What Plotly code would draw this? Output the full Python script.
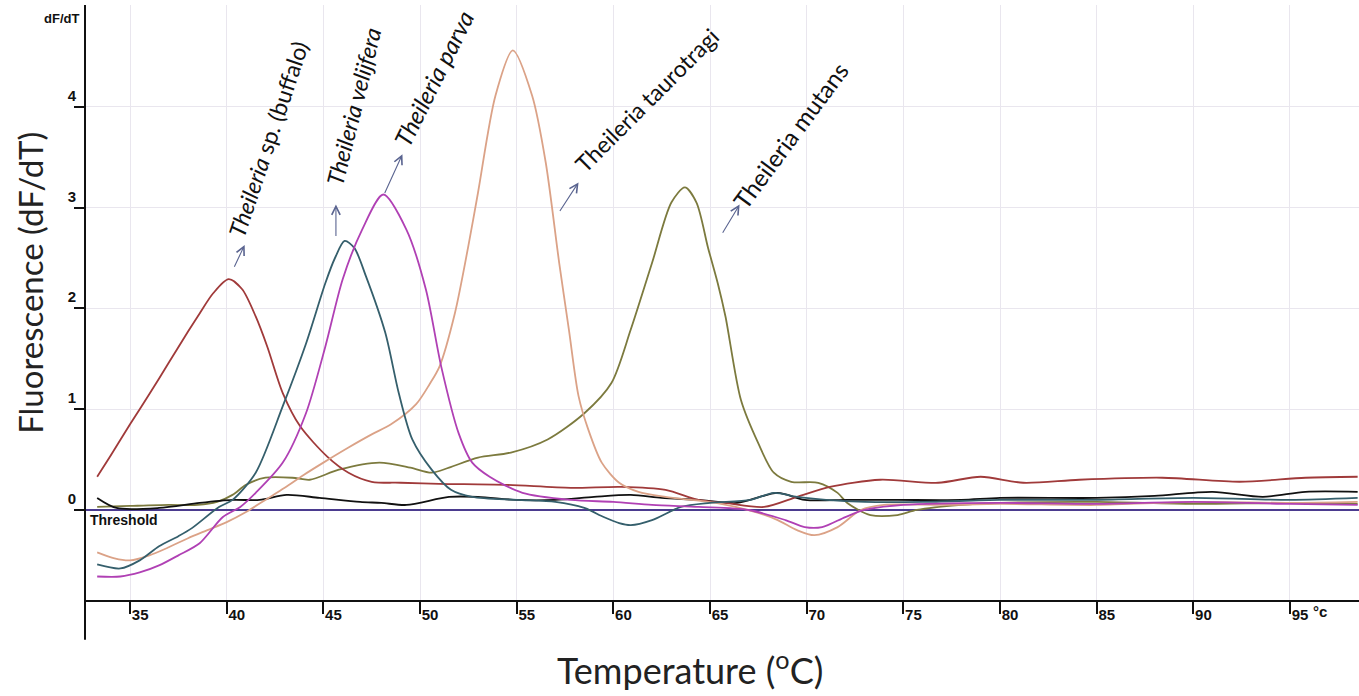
import plotly.graph_objects as go

# ---------------- data ----------------
buffalo_x = [33.3, 34, 35, 36, 37, 38, 38.6, 39.3, 40.1, 40.8, 41.5, 42.1, 42.9, 43.8, 45.2, 46.3, 47.5, 49, 51, 54.4, 57.8,
             60.4, 62.7, 64.4, 65.8, 67.8, 69.5, 71.2, 73.8, 76.8, 79, 81.2, 84.1, 88.4, 92.4, 95.8, 98.5]
buffalo_y = [0.33, 0.54, 0.85, 1.15, 1.46, 1.77, 1.95, 2.15, 2.29, 2.19, 1.92, 1.62, 1.16, 0.83, 0.53, 0.37, 0.28, 0.27, 0.26,
             0.25, 0.22, 0.23, 0.2, 0.1, 0.07, 0.03, 0.13, 0.23, 0.3, 0.27, 0.33, 0.27, 0.3, 0.32, 0.28, 0.32, 0.33]

velifera_x = [33.3, 34.5, 35.5, 36.5, 37.5, 38.2, 39.6, 40.3, 41.5, 42.9, 44.1, 45.1, 45.6, 46.1, 46.6, 47.2, 48.2, 48.9,
              49.6, 50.6, 51.6, 52.7, 55, 57, 58.5, 59.5, 60.3, 60.9, 62, 63.5, 65, 67.1, 68.3, 69.5, 71, 73, 76, 80, 85,
              90, 95, 98.5]
velifera_y = [-0.54, -0.58, -0.5, -0.36, -0.26, -0.18, 0.03, 0.1, 0.37, 1.03, 1.65, 2.25, 2.5, 2.67, 2.6, 2.32, 1.76, 1.16,
              0.7, 0.4, 0.2, 0.13, 0.1, 0.08, 0.02, -0.07, -0.13, -0.15, -0.1, 0.03, 0.07, 0.1, 0.17, 0.13, 0.1, 0.08, 0.08,
              0.1, 0.1, 0.12, 0.1, 0.12]

parva_x = [33.3, 34.5, 35.5, 36.5, 37.5, 38.6, 39.8, 40.7, 41.5, 42.9, 44.1, 45.1, 46.0, 47.0, 48.1, 49.3, 50.3, 51.1, 52.0,
           52.7, 53.6, 55.3, 57.8, 60, 62, 64.4, 67.0, 68.9, 69.9, 70.8, 72, 73, 75, 80, 85, 90, 95, 98.5]
parva_y = [-0.66, -0.66, -0.62, -0.55, -0.45, -0.33, -0.07, 0.03, 0.17, 0.47, 0.96, 1.62, 2.29, 2.78, 3.13, 2.78, 2.19, 1.42,
           0.76, 0.47, 0.33, 0.17, 0.1, 0.08, 0.05, 0.03, 0.0, -0.1, -0.17, -0.17, -0.07, 0.0, 0.05, 0.07, 0.06, 0.08, 0.06,
           0.05]

taurotragi_x = [33.3, 34.2, 35, 36, 37, 38, 39, 40, 41, 42, 43, 44, 45, 46.3, 47.5, 48.5, 49.8, 50.5, 51, 51.8, 52.5, 53,
                53.9, 54.8, 55.8, 56.5, 57.2, 57.7, 58.2, 58.7, 59.4, 60.3, 61.3, 62.7, 65.3, 67.5, 68.5, 69.5, 70.4, 71.6,
                72.8, 74, 77, 80, 85, 90, 95, 98.5]
taurotragi_y = [-0.42, -0.48, -0.5, -0.45, -0.37, -0.28, -0.2, -0.12, -0.02, 0.1, 0.22, 0.35, 0.47, 0.62, 0.75, 0.85, 1.05,
                1.25, 1.42, 1.95, 2.62, 3.15, 4.11, 4.56, 4.11, 3.45, 2.45, 1.79, 1.13, 0.8, 0.47, 0.27, 0.18, 0.13, 0.07,
                -0.03, -0.1, -0.2, -0.25, -0.17, 0.0, 0.05, 0.05, 0.06, 0.05, 0.08, 0.07, 0.08]

mutans_x = [33.3, 35, 37, 38.5, 39.5, 40.3, 41, 42, 43.4, 44.3, 45.8, 47.9, 49.5, 50.6, 51.5, 53, 54.7, 56.6, 58.5, 59.9,
            60.9, 62, 63, 63.7, 64.3, 64.9, 65.4, 65.8, 66.6, 67.5, 68.3, 69.2, 70.6, 71.6, 72.1, 73.3, 74.7, 75.7, 78, 80,
            85, 90, 95, 98.5]
mutans_y = [0.03, 0.04, 0.05, 0.05, 0.08, 0.15, 0.25, 0.32, 0.32, 0.3, 0.4, 0.47, 0.42, 0.37, 0.42, 0.52, 0.57, 0.7, 0.96,
            1.26, 1.79, 2.45, 3.05, 3.2, 3.05, 2.6, 2.25, 1.92, 1.09, 0.66, 0.37, 0.28, 0.27, 0.17, 0.07, -0.05, -0.05, 0.0,
            0.05, 0.07, 0.08, 0.06, 0.07, 0.06]

control_x = [33.3, 34.3, 36.5, 38.6, 40.3, 41.7, 43.1, 44.8, 46.9, 48.0, 49.3, 51.5, 53, 55, 57, 59, 60.9, 62.5, 64.4,
             66.4, 68.5, 69.9, 72.1, 74.7, 78, 80, 85, 88, 91, 93.6, 95.8, 98.5]
control_y = [0.12, 0.02, 0.02, 0.07, 0.1, 0.1, 0.15, 0.12, 0.08, 0.07, 0.05, 0.13, 0.13, 0.1, 0.1, 0.13, 0.15, 0.12, 0.1,
             0.07, 0.17, 0.1, 0.1, 0.1, 0.1, 0.12, 0.12, 0.14, 0.18, 0.13, 0.18, 0.18]

x_ticks = [35, 40, 45, 50, 55, 60, 65, 70, 75, 80, 85, 90, 95]
y_ticks = [0, 1, 2, 3, 4]
threshold = 0.0

# ---------------- figure ----------------
series = [
    (mutans_x, mutans_y, "#7c7a3e"),
    (control_x, control_y, "#111111"),
    (buffalo_x, buffalo_y, "#a03a3a"),
    (taurotragi_x, taurotragi_y, "#dba287"),
    (velifera_x, velifera_y, "#355f6c"),
    (parva_x, parva_y, "#b040b4"),
]

fig = go.Figure()
fig.add_trace(go.Scatter(x=[32.67, 98.6], y=[threshold, threshold], mode="lines",
                         line=dict(color="#4b3b8f", width=2), hoverinfo="skip"))
for xs, ys, c in series:
    fig.add_trace(go.Scatter(x=xs, y=ys, mode="lines",
                             line=dict(color=c, width=1.8, shape="spline", smoothing=0.8)))

FONT = "Lato"
ann = []
texts = [
    ("<i>Theileria</i> sp. (buffalo)", 42.14, 3.68, -71.5, 23),
    ("<i>Theileria velijfera</i>", 46.54, 4.0, -76, 23),
    ("<i>Theileria parva</i>", 50.7, 4.28, -63.5, 24),
    ("Theileria taurotragi", 61.72, 4.07, -45, 23),
    ("Theileria mutans", 69.14, 3.72, -53.5, 24),
]
for t, x, y, ang, fs in texts:
    ann.append(dict(x=x, y=y, xref="x", yref="y", text=t, showarrow=False, textangle=ang,
                    font=dict(family=FONT, size=fs, color="#111111")))
arrows = [
    (40.93, 2.63, 40.24, 2.35),
    (45.65, 3.03, 45.65, 2.62),
    (49.09, 3.53, 48.02, 3.08),
    (58.2, 3.25, 57.08, 2.92),
    (66.53, 3.03, 65.5, 2.70),
]
for hx, hy, tx, ty in arrows:
    ann.append(dict(x=hx, y=hy, ax=tx, ay=ty, xref="x", yref="y", axref="x", ayref="y", text=" ",
                    showarrow=True, arrowhead=5, arrowsize=1.5, arrowwidth=1.1, arrowcolor="#5a6490"))

ann += [
    dict(x=32.8, y=-0.1, xref="x", yref="y", text="<b>Threshold</b>", showarrow=False, xanchor="left",
         font=dict(family="Liberation Sans", size=14, color="#111111")),
    dict(x=-0.003, y=0.978, xref="paper", yref="paper", text="<b>dF/dT</b>", showarrow=False,
         xanchor="right", yanchor="middle",
         font=dict(family="Liberation Sans", size=13, color="#111111")),
    dict(x=0.9694, y=-0.037, xref="paper", yref="paper", text="<b>°c</b>", showarrow=False,
         xanchor="center",
         font=dict(family="Liberation Sans", size=15, color="#111111")),
    dict(x=0.475, y=-0.114, xref="paper", yref="paper", text="Temperature (<sup>o</sup>C)", showarrow=False,
         xanchor="center", yanchor="middle",
         font=dict(family=FONT, size=36, color="#222222")),
    dict(x=-0.0432, y=0.533, xref="paper", yref="paper", text="Fluorescence (dF/dT)", showarrow=False,
         xanchor="center", yanchor="middle",
         textangle=-90, font=dict(family=FONT, size=33, color="#222222")),
]

fig.update_layout(
    width=1359, height=696,
    margin=dict(l=85, r=0, t=5, b=96),
    paper_bgcolor="white", plot_bgcolor="white",
    showlegend=False,
    annotations=ann,
    shapes=[
        dict(type="line", xref="paper", yref="paper", x0=0, x1=0, y0=-0.067, y1=1.0,
             line=dict(color="#111111", width=2)),
    ],
)
fig.update_xaxes(range=[32.67, 98.57], tickvals=x_ticks, ticktext=["<b>%d</b>" % v for v in x_ticks],
                 ticks="outside", ticklen=12, tickcolor="#111111", tickwidth=1.5,
                 ticklabelposition="outside right",
                 tickfont=dict(family="Liberation Sans", size=15, color="#111111"),
                 showgrid=True, gridcolor="#e9e6ee", gridwidth=1,
                 showline=True, linecolor="#111111", linewidth=2, zeroline=False)
fig.update_yaxes(range=[-0.893, 5.01], tickvals=y_ticks, ticktext=["<b>%d</b>" % v for v in y_ticks],
                 ticks="outside", ticklen=10, tickcolor="#111111", tickwidth=1.5,
                 ticklabelposition="outside top", ticklabelstandoff=5,
                 tickfont=dict(family="Liberation Sans", size=15, color="#111111"),
                 showgrid=True, gridcolor="#e9e6ee", gridwidth=1,
                 showline=False, zeroline=False)

fig.write_html("out.html", config={"displayModeBar": False},
               post_script="document.body.style.margin='0px';document.body.style.overflow='hidden';")
